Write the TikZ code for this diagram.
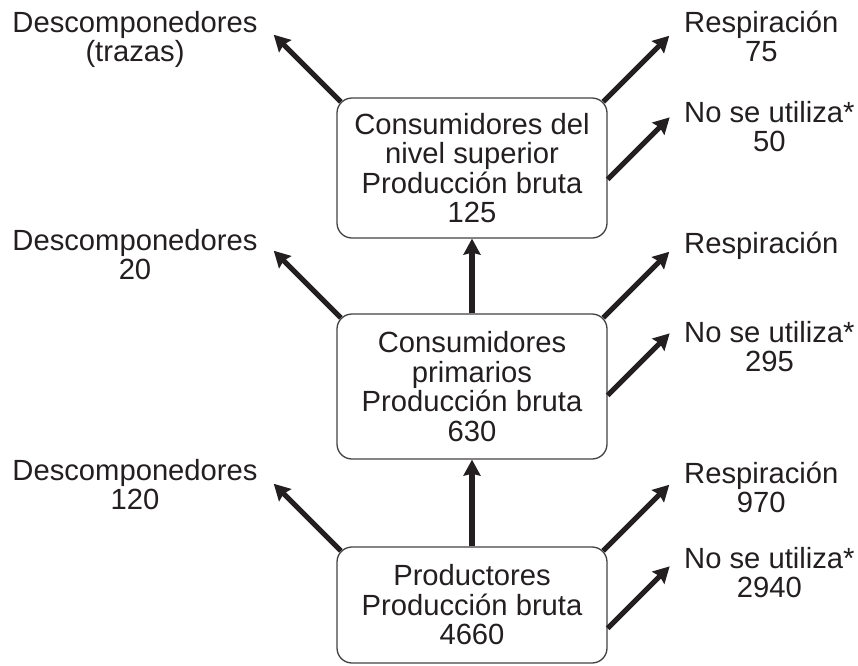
\documentclass[tikz,border=0pt]{standalone}
\usepackage{fontspec}
\setmainfont{Liberation Sans}
\usetikzlibrary{arrows.meta,calc}
\definecolor{ink}{HTML}{231F20}
\begin{document}
\begin{tikzpicture}[x=1pt,y=-1pt,
  font=\fontsize{29.2}{29.5}\selectfont,
  box/.style={draw=ink!85, line width=1.3pt, rounded corners=15pt, minimum width=270pt, align=center, text=ink, inner sep=0pt},
  lbl/.style={align=center, text=ink, inner sep=0pt},
  flow/.style={draw=ink, line width=5.2pt, -{Stealth[length=16pt,width=17pt,inset=2pt]}},
]
\useasboundingbox (0,0) rectangle (858,665);

% boxes
\node[box, minimum height=140pt] (top) at (472,168) {Consumidores del\\nivel superior\\Producción bruta\\125};
\node[box, minimum height=145pt] (mid) at (472,386.5) {Consumidores\\primarios\\Producción bruta\\630};
\node[box, minimum height=116pt] (bot) at (472,605) {Productores\\Producción bruta\\4660};

% vertical flows
\draw[flow] (mid) -- (top);
\draw[flow] (bot) -- (mid);

% diagonal flows
\foreach \b in {top,mid,bot}{
  \coordinate (\b-a) at ($(\b.north west)+(4.4,4.4)$);
  \coordinate (\b-at) at ($(\b-a)+(-67,-67)$);
  \coordinate (\b-b) at ($(\b.north east)+(-4.4,4.4)$);
  \coordinate (\b-bt) at ($(\b-b)+(66,-66)$);
  \coordinate (\b-c) at ($(\b.north east)+(0,82)$);
  \coordinate (\b-ct) at ($(\b-c)+(62,-62)$);
  \draw[flow] (\b-a) -- (\b-at);
  \draw[flow] (\b-b) -- (\b-bt);
  \draw[flow] (\b-c) -- (\b-ct);
}

% left labels
\node[lbl, anchor=north] (dtop) at (135,4) {\rule{0pt}{28pt}Descomponedores\\(trazas)};
\node[lbl, anchor=north] (dmid) at (135,222) {\rule{0pt}{28pt}Descomponedores\\20};
\node[lbl, anchor=north] (dbot) at (135,452) {\rule{0pt}{28pt}Descomponedores\\120};

% right labels
\node[lbl, anchor=north west] (rtop) at (684,4) {\rule{0pt}{28pt}Respiración\\75};
\node[lbl, anchor=north west] (ntop) at (684,94) {\rule{0pt}{28pt}No se utiliza*\\50};
\node[lbl, anchor=north west] (rmid) at (684,225) {\rule{0pt}{28pt}Respiración};
\node[lbl, anchor=north west] (nmid) at (684,314) {\rule{0pt}{28pt}No se utiliza*\\295};
\node[lbl, anchor=north west] (rbot) at (684,455) {\rule{0pt}{28pt}Respiración\\970};
\node[lbl, anchor=north west] (nbot) at (684,540) {\rule{0pt}{28pt}No se utiliza*\\2940};
\end{tikzpicture}
\end{document}
